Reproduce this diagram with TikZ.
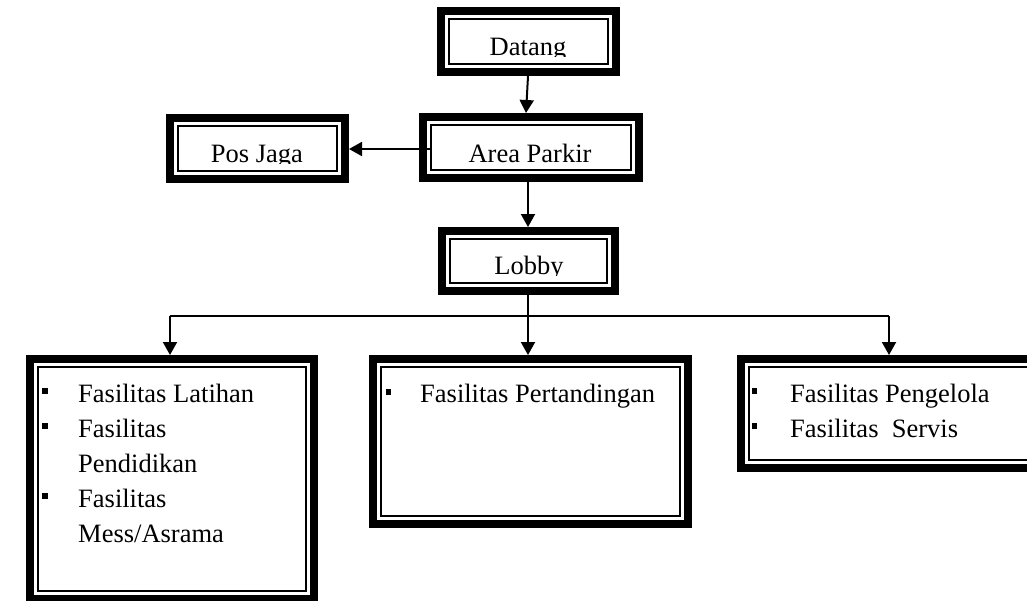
\documentclass[tikz,border=0pt]{standalone}
\usepackage{fontspec}
\setmainfont{Liberation Serif}
\usetikzlibrary{arrows.meta}
\begin{document}
\begin{tikzpicture}[x=1pt,y=-1pt,
  frame/.style={draw, line width=8pt, rectangle, inner sep=0pt, outer sep=4pt},
  innerframe/.style={line width=1.8pt},
  arr/.style={line width=2pt, -{Triangle[width=14pt,length=13pt]}},
  conn/.style={line width=2pt},
  lbl/.style={font=\fontsize{26.5}{35}\selectfont, inner sep=0pt},
  bul/.style={fill=black, minimum size=5.5pt, inner sep=0pt, rectangle}
]
\clip (0,0) rectangle (1027,600);
% boxes
\node[frame, minimum width=175pt, minimum height=61pt] (datang) at (528.5,41.5) {};
\node[frame, minimum width=216pt, minimum height=61pt] (parkir) at (531,147.5) {};
\node[frame, minimum width=175pt, minimum height=61pt] (pos) at (257.5,148.5) {};
\node[frame, minimum width=173pt, minimum height=60pt] (lobby) at (528.5,261) {};
\node[frame, minimum width=284pt, minimum height=240pt] (b1) at (172,479) {};
\node[frame, minimum width=315pt, minimum height=165pt] (b2) at (530.5,441.5) {};
\node[frame, minimum width=300pt, minimum height=109pt] (b3) at (891,413.5) {};
\foreach \n in {datang,parkir,pos,lobby,b1,b2,b3}
  \draw[innerframe] ([xshift=12pt,yshift=-12pt]\n.north west) rectangle ([xshift=-12pt,yshift=12pt]\n.south east);
% titles (clipped at baseline as in the reference)
\begin{scope}\clip (400,0) rectangle (660,56);
  \node[lbl, anchor=base] (tdatang) at (528,55) {Datang};\end{scope}
\begin{scope}\clip (420,100) rectangle (645,163);
  \node[lbl, anchor=base] (tparkir) at (530,162) {Area Parkir};\end{scope}
\begin{scope}\clip (160,100) rectangle (355,163);
  \node[lbl, anchor=base] (tpos) at (257,162) {Pos Jaga};\end{scope}
\begin{scope}\clip (430,220) rectangle (625,275);
  \node[lbl, anchor=base] (tlobby) at (529,274) {Lobby};\end{scope}
% lists
\node[lbl, anchor=base west] (l1) at (78,402) {Fasilitas Latihan};
\node[lbl, anchor=base west] (l2) at (78,437) {Fasilitas};
\node[lbl, anchor=base west] (l3) at (78,472) {Pendidikan};
\node[lbl, anchor=base west] (l4) at (78,507) {Fasilitas};
\node[lbl, anchor=base west] (l5) at (78,542) {Mess/Asrama};
\node[bul] (u1) at (45,391) {};
\node[bul] (u2) at (45,426) {};
\node[bul] (u3) at (45,496) {};
\node[lbl, anchor=base west] (m1) at (420,402) {Fasilitas Pertandingan};
\node[bul] (u4) at (388.5,392) {};
\node[lbl, anchor=base west] (r1) at (790,402) {Fasilitas Pengelola};
\node[lbl, anchor=base west] (r2) at (790,437) {Fasilitas\ \ Servis};
\node[bul] (u5) at (754.5,391) {};
\node[bul] (u6) at (754.5,426) {};
% connectors
\draw[arr] ([xshift=-0.5pt]datang.south) -- ([xshift=-5pt]parkir.north);
\draw[arr] ([xshift=11pt,yshift=-1.5pt]parkir.west) -- ([yshift=-0.5pt]pos.east);
\draw[arr] ([xshift=-3pt]parkir.south) -- ([xshift=-0.5pt]lobby.north);
\coordinate (hl) at (170,316);
\coordinate (hr) at (889,316);
\draw[conn] (hl) -- (hr);
\draw[arr] ([xshift=-0.5pt]lobby.south) -- ([xshift=-2.5pt]b2.north);
\draw[arr] (hl) -- (hl |- b1.north);
\draw[arr] (hr) -- (hr |- b3.north);
\end{tikzpicture}
\end{document}
